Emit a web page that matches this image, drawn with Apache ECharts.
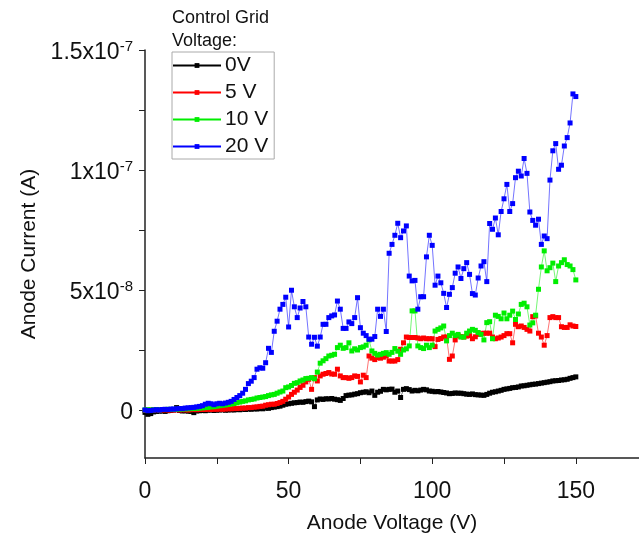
<!DOCTYPE html>
<html>
<head>
<meta charset="utf-8">
<script src="https://cdn.jsdelivr.net/npm/echarts@6/dist/echarts.min.js"></script>
<style>
  html, body { margin: 0; padding: 0; background: #fff; }
  #chart { width: 639px; height: 535px; }
</style>
</head>
<body>
<div id="chart"></div>
<script>
// anode voltage sweep (V)
const voltage = [
  0, 1, 2, 3, 4, 5, 6, 7, 8, 9, 10, 11, 12, 13, 14, 15, 16, 17, 18, 19,
  20, 21, 22, 23, 24, 25, 26, 27, 28, 29, 30, 31, 32, 33, 34, 35, 36, 37, 38, 39,
  40, 41, 42, 43, 44, 45, 46, 47, 48, 49, 50, 51, 52, 53, 54, 55, 56, 57, 58, 59,
  60, 61, 62, 63, 64, 65, 66, 67, 68, 69, 70, 71, 72, 73, 74, 75, 76, 77, 78, 79,
  80, 81, 82, 83, 84, 85, 86, 87, 88, 89, 90, 91, 92, 93, 94, 95, 96, 97, 98, 99,
  100, 101, 102, 103, 104, 105, 106, 107, 108, 109, 110, 111, 112, 113, 114, 115, 116, 117, 118, 119,
  120, 121, 122, 123, 124, 125, 126, 127, 128, 129, 130, 131, 132, 133, 134, 135, 136, 137, 138, 139,
  140, 141, 142, 143, 144, 145, 146, 147, 148, 149, 150
];

// anode current in nA, one value per voltage step
const grid0V = [
  -1.0, -1.8, -1.5, -0.8, -0.6, -0.5, -0.4, -0.6, -0.3, -0.2,
  0, 1.0, -0.2, -0.4, -0.3, -0.5, -0.6, -1.1, -0.4, -0.3,
  -0.2, -0.3, -0.1, 0, -0.2, -0.1, 0, 0.1, -0.1, 0,
  0.1, 0, 0.2, 0.1, 0.3, 0.2, 0.4, 0.3, 0.5, 0.4,
  0.6, 0.5, 0.8, 0.7, 1.0, 1.2, 1.4, 1.6, 2.0, 2.4,
  2.6, 2.8, 3.0, 3.1, 3.3, 3.2, 3.5, 3.7, 3.4, 1.4,
  4.2, 4.6, 4.4, 4.7, 4.6, 4.8, 4.5, 4.3, 4.0, 4.8,
  6.0, 6.2, 6.3, 6.6, 6.8, 7.2, 7.4, 7.6, 7.2, 7.9,
  6.1, 7.4, 7.8, 8.6, 8.4, 8.6, 8.7, 7.4, 7.9, 5.2,
  8.6, 8.9, 8.5, 7.9, 8.2, 8.0, 8.3, 8.6, 8.4, 7.9,
  7.8, 7.6, 7.7, 7.5, 7.3, 7.1, 6.8, 6.9, 7.1, 7.0,
  7.0, 6.8, 6.6, 6.5, 6.7, 6.4, 6.3, 6.2, 6.1, 6.5,
  7.0, 7.4, 7.6, 7.9, 8.2, 8.6, 8.8, 9.0, 9.3, 9.4,
  9.6, 10.0, 10.1, 10.3, 10.5, 10.7, 10.8, 11.0, 11.2, 11.4,
  11.6, 11.8, 12.1, 12.2, 12.3, 12.5, 12.6, 12.8, 13.2, 13.5, 13.8
];

const grid5V = [
  -0.2, -0.1, 0, 0, 0.1, 0, 0, 0.1, 0, 0,
  0, 0.1, 0, 0.1, 0.1, 0, 0.1, 0.2, 0.1, 0.2,
  0.2, 0.2, 0.3, 0.2, 0.3, 0.3, 0.4, 0.3, 0.4, 0.5,
  0.5, 0.6, 0.6, 0.7, 0.8, 0.8, 1.0, 1.0, 1.2, 1.3,
  1.5, 1.6, 2.0, 2.2, 2.4, 2.4, 2.7, 3.1, 3.6, 4.5,
  5.4, 6.5, 7.4, 8.3, 9.4, 10.3, 11.7, 12.8, 8.6, 13.5,
  12.1, 14.2, 14.9, 15.2, 15.6, 15.0, 14.9, 17.0, 14.2, 13.5,
  13.5, 13.2, 13.5, 14.2, 14.0, 11.7, 14.5, 13.5, 22.5, 21.6,
  21.0, 21.8, 21.6, 22.0, 22.5, 20.4, 20.4, 20.4, 21.0, 25.3,
  28.0, 30.4, 30.2, 30.2, 30.2, 30.0, 29.7, 30.0, 29.7, 29.7,
  29.7, 26.4, 29.4, 29.8, 30.4, 30.4, 21.1, 22.5, 29.2, 31.0,
  30.6, 30.4, 30.8, 31.0, 29.7, 30.5, 31.5, 31.8, 32.0, 32.0,
  32.0, 30.4, 29.7, 30.0, 30.4, 31.0, 31.8, 31.8, 28.0, 35.7,
  34.7, 35.0, 34.4, 33.6, 32.9, 38.9, 39.2, 32.0, 30.4, 27.0,
  31.0, 38.5, 38.9, 38.5, 38.5, 34.7, 34.4, 34.4, 35.5, 35.0, 34.8
];

const grid10V = [
  0, 0.1, 0, 0.1, 0.2, 0.1, 0.2, 0.2, 0.3, 0.2,
  0.3, 0.3, 0.4, 0.4, 0.5, 0.5, 0.6, 0.6, 0.7, 0.8,
  0.9, 1.0, 1.1, 1.3, 1.4, 1.6, 1.8, 2.0, 2.1, 2.3,
  2.5, 2.7, 3.0, 3.3, 3.6, 3.8, 4.2, 4.4, 4.6, 5.0,
  5.2, 5.4, 5.6, 6.0, 6.3, 6.5, 7.0, 7.5, 7.9, 9.3,
  9.6, 10.2, 11.1, 11.4, 12.1, 12.5, 13.1, 13.2, 13.5, 13.0,
  15.8, 19.5, 20.5, 21.4, 22.5, 22.8, 23.2, 26.0, 27.0, 25.7,
  26.0, 28.0, 24.6, 25.5, 25.0, 26.0, 26.3, 27.0, 29.2, 24.6,
  23.6, 22.9, 23.2, 23.6, 23.9, 23.2, 24.0, 25.6, 24.5, 23.2,
  25.0, 25.5, 26.7, 41.3, 41.3, 26.7, 26.0, 25.6, 27.0, 26.0,
  27.0, 32.9, 33.6, 34.2, 35.0, 28.8, 31.0, 32.0, 31.0, 31.5,
  30.4, 30.4, 32.0, 32.9, 33.6, 33.2, 32.3, 31.5, 29.2, 36.4,
  36.8, 29.7, 39.5, 39.0, 38.0, 40.4, 38.0, 39.5, 41.2, 37.7,
  40.0, 44.0, 44.5, 43.0, 35.4, 36.3, 39.5, 50.3, 59.6, 66.3,
  58.0, 59.3, 61.2, 53.5, 60.0, 61.4, 62.6, 60.6, 60.0, 58.5, 54.2
];

const grid20V = [
  0, -0.3, -0.2, 0, 0.1, 0, 0.2, 0.3, 0.2, 0.4,
  0.4, 0.5, 0.6, 0.6, 0.8, 0.9, 1.0, 1.1, 1.3, 1.5,
  1.8, 2.4, 2.8, 2.6, 2.2, 2.6, 2.8, 2.6, 2.9, 3.2,
  3.6, 4.4, 5.2, 6.0, 7.0, 8.6, 11, 12, 13.5, 17,
  17.6, 17.4, 19.7, 25.7, 24, 32.8, 37, 42, 44, 47,
  34.6, 49.9, 43, 38.5, 42.5, 45.2, 43, 30.4, 27.4, 30.3,
  26.6, 30.4, 35.7, 35.7, 38.5, 39.2, 39.6, 45.4, 42, 34,
  34, 36.7, 36, 38.5, 46.8, 34.3, 32, 31, 29.5, 29.5,
  30.6, 42, 39, 42, 32.7, 65.3, 69, 72.8, 77.8, 71.8,
  74.6, 76.7, 55.8, 53.8, 54, 42, 47.2, 47.2, 63.8, 72.8,
  68.6, 52, 55.8, 53, 48.6, 42.7, 48.2, 51, 57, 59.6,
  54.8, 58.9, 61.4, 56.5, 48.5, 47.9, 55, 60, 61.8, 53.5,
  77.7, 75.3, 80, 73, 82.7, 88, 94, 82.7, 86, 96.8,
  99.5, 97.5, 104.8, 98.6, 82.5, 79, 77, 79.5, 69, 72.5,
  71.4, 95.8, 108, 111, 100.3, 102, 110, 113.5, 119.6, 131.7, 130.6
];

const seriesNames = ['0V', '5 V', '10 V', '20 V'];
const seriesColors = ['#000000', '#ff0000', '#00ee00', '#0000ff'];
const seriesData = [grid0V, grid5V, grid10V, grid20V];

// axis ticks
const xTicks = [0, 25, 50, 75, 100, 125, 150];
const xLabels = [0, 50, 100, 150];
const yTicks = [0, 2.5e-8, 5e-8, 7.5e-8, 1e-7, 1.25e-7, 1.5e-7];
const yLabels = [0, 5e-8, 1e-7, 1.5e-7];
const yLabelText = ['{n|0}', '{n|5x10}{s|-8}', '{n|1x10}{s|-7}', '{n|1.5x10}{s|-7}'];

const chart = echarts.init(document.getElementById('chart'));
const font = 'Liberation Sans, Arial, sans-serif';

const series = seriesNames.map((name, k) => ({
    name: name,
    type: 'line',
    symbol: 'rect',
    symbolSize: 5,
    showAllSymbol: true,
    color: seriesColors[k],
    lineStyle: { width: 1, color: seriesColors[k], opacity: 0.55 },
    itemStyle: { color: seriesColors[k] },
    emphasis: { disabled: true },
    data: voltage.map((v, i) => [v, seriesData[k][i] * 1e-9])
}));

const option = {
    animation: false,
    textStyle: { fontFamily: font },
    title: {
        text: 'Control Grid\nVoltage:',
        left: 172,
        top: 7,
        padding: 0,
        textStyle: { fontSize: 18, fontWeight: 'normal', color: '#111', lineHeight: 23, fontFamily: font }
    },
    legend: {
        orient: 'vertical',
        left: 172,
        top: 52,
        width: 97,
        padding: [3, 6, 2, 0],
        itemGap: 6,
        itemWidth: 48,
        itemHeight: 6,
        borderColor: '#aaaaaa',
        borderWidth: 1,
        lineStyle: { width: 2, opacity: 1 },
        textStyle: { fontSize: 21, color: '#111', padding: [0, 0, 0, -1] },
        data: seriesNames
    },
    grid: { left: 145, right: 0, top: 50, bottom: 77, outerBoundsMode: 'none', containLabel: false },
    xAxis: {
        type: 'value',
        min: 0,
        max: 172,
        name: 'Anode Voltage (V)',
        nameLocation: 'middle',
        nameGap: 55,
        nameTextStyle: { fontSize: 21, color: '#111' },
        axisLine: { onZero: false, lineStyle: { color: '#222', width: 1.5 } },
        axisTick: { customValues: xTicks, inside: false, length: 6, lineStyle: { color: '#222' } },
        axisLabel: { customValues: xLabels, fontSize: 23, color: '#111', margin: 22 },
        splitLine: { show: false }
    },
    yAxis: {
        type: 'value',
        min: -2e-8,
        max: 1.5e-7,
        name: 'Anode Current (A)',
        nameLocation: 'middle',
        nameGap: 102,
        nameTextStyle: { fontSize: 21, color: '#111' },
        axisLine: { show: true, onZero: false, lineStyle: { color: '#222', width: 1.5 } },
        axisTick: { customValues: yTicks, inside: false, length: 6, lineStyle: { color: '#222' } },
        axisLabel: {
            customValues: yLabels,
            margin: 12,
            padding: [4, 0, 0, 0],
            formatter: function (value) {
                let best = 0;
                yLabels.forEach((t, i) => {
                    if (Math.abs(t - value) < Math.abs(yLabels[best] - value)) best = i;
                });
                return yLabelText[best];
            },
            fontSize: 23,
            color: '#111',
            rich: {
                n: { fontSize: 23, color: '#111', verticalAlign: 'bottom', lineHeight: 25 },
                s: { fontSize: 15, color: '#111', verticalAlign: 'top', lineHeight: 25, padding: [0, 0, 11, 0] }
            }
        },
        splitLine: { show: false }
    },
    series: series
};

chart.setOption(option);
</script>
</body>
</html>
